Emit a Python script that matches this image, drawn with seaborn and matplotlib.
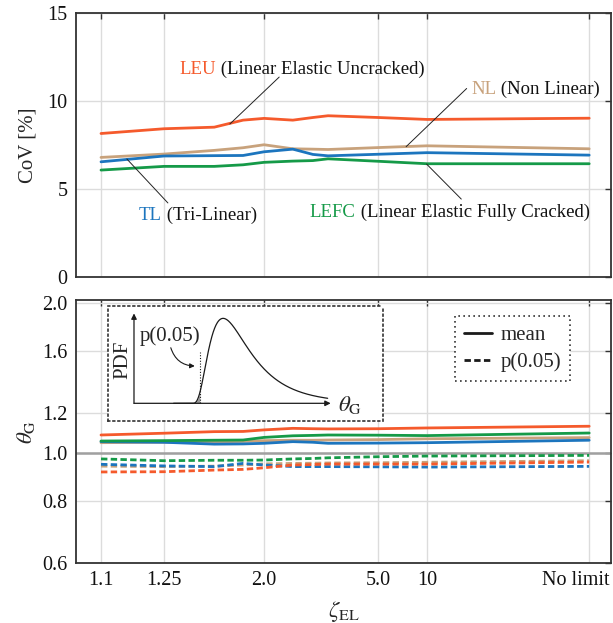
import numpy as np
import pandas as pd
import matplotlib
matplotlib.use("Agg")
import matplotlib.pyplot as plt
import seaborn as sns
from matplotlib.transforms import ScaledTranslation
from matplotlib.lines import Line2D
from matplotlib.patches import FancyArrowPatch

# ---------------- data ----------------
positions = [0.0, 1.29, 2.32, 2.91, 3.34, 3.93, 4.34, 4.65, 5.68, 6.68, 10.0]
tick_pos = [0.0, 1.29, 3.34, 5.68, 6.68, 10.0]
tick_labels = ["1.1", "1.25", "2.0", "5.0", "10", "No limit"]

models = ["LEU", "NL", "TL", "LEFC"]
colors = {"LEU": "#F55A2C", "NL": "#C8A27C", "TL": "#1C75BE", "LEFC": "#159A48"}

cov = {
    "LEU":  [8.14, 8.41, 8.50, 8.90, 9.00, 8.90, 9.05, 9.15, 9.05, 8.94, 9.01],
    "NL":   [6.78, 6.97, 7.18, 7.33, 7.50, 7.27, 7.25, 7.23, 7.34, 7.44, 7.27],
    "TL":   [6.53, 6.86, 6.88, 6.89, 7.10, 7.25, 6.95, 6.87, 6.96, 7.05, 6.91],
    "LEFC": [6.06, 6.27, 6.27, 6.36, 6.50, 6.57, 6.60, 6.70, 6.56, 6.42, 6.42],
}
theta_mean = {
    "LEU":  [1.086, 1.095, 1.103, 1.104, 1.112, 1.120, 1.118, 1.117, 1.118, 1.122, 1.131],
    "NL":   [1.048, 1.050, 1.052, 1.054, 1.058, 1.060, 1.060, 1.061, 1.063, 1.067, 1.073],
    "TL":   [1.053, 1.050, 1.041, 1.042, 1.045, 1.053, 1.050, 1.045, 1.046, 1.048, 1.060],
    "LEFC": [1.056, 1.058, 1.060, 1.061, 1.074, 1.082, 1.084, 1.086, 1.085, 1.083, 1.096],
}
theta_p05 = {
    "LEU":  [0.915, 0.916, 0.923, 0.926, 0.933, 0.945, 0.947, 0.949, 0.949, 0.949, 0.958],
    "NL":   [0.940, 0.938, 0.940, 0.945, 0.950, 0.952, 0.953, 0.954, 0.955, 0.957, 0.964],
    "TL":   [0.948, 0.941, 0.938, 0.952, 0.945, 0.938, 0.938, 0.938, 0.937, 0.936, 0.939],
    "LEFC": [0.972, 0.964, 0.966, 0.966, 0.967, 0.972, 0.974, 0.977, 0.982, 0.985, 0.988],
}
full_names = {
    "LEU": " (Linear Elastic Uncracked)",
    "NL": " (Non Linear)",
    "TL": " (Tri-Linear)",
    "LEFC": " (Linear Elastic Fully Cracked)",
}

# ---------------- style ----------------
sns.set_theme(style="white")
plt.rcParams["font.family"] = ["Liberation Serif", "DejaVu Serif"]
plt.rcParams["mathtext.fontset"] = "stix"
FS = 13.5      # annotation labels
TFS = 14.5     # tick / axis labels
IFS = 15       # legend and inset text
SPC = "#333333"
GRID = "#dcdcdc"
LW = 2.0

fig = plt.figure(figsize=(6.13, 6.23), dpi=100)
ax1 = fig.add_axes([0.124, 0.556, 0.873, 0.4233])
ax2 = fig.add_axes([0.124, 0.0963, 0.873, 0.4221])

top_rows = []
for m in models:
    for p, v in zip(positions, cov[m]):
        top_rows.append({"pos": p, "val": v, "model": m})
df_top = pd.DataFrame(top_rows)

bot_rows = []
for m in models:
    for p, v in zip(positions, theta_mean[m]):
        bot_rows.append({"pos": p, "val": v, "model": m, "stat": "mean"})
    for p, v in zip(positions, theta_p05[m]):
        bot_rows.append({"pos": p, "val": v, "model": m, "stat": "p05"})
df_bot = pd.DataFrame(bot_rows)

sns.lineplot(data=df_top, x="pos", y="val", hue="model", palette=colors,
             hue_order=models, ax=ax1, legend=False, lw=LW, errorbar=None)
sns.lineplot(data=df_bot, x="pos", y="val", hue="model", style="stat",
             palette=colors, hue_order=["NL", "TL", "LEFC", "LEU"],
             dashes={"mean": "", "p05": (2.3, 1.2)}, ax=ax2, legend=False,
             lw=LW, errorbar=None)

xlim = (-0.512, 10.45)
for ax in (ax1, ax2):
    ax.set_xlim(*xlim)
    ax.set_xticks(tick_pos)
    ax.grid(True, color=GRID, lw=1.0)
    ax.set_axisbelow(True)
    for s in ax.spines.values():
        s.set_color(SPC)
        s.set_linewidth(1.3)
    ax.tick_params(direction="in", length=4, width=1.0, color=SPC,
                   top=True, right=True, labelsize=TFS, pad=6,
                   labelcolor="#111111")
    ax.minorticks_off()

# top panel
ax1.set_ylim(0, 15)
ax1.set_yticks([0, 5, 10, 15])
ax1.set_yticklabels(["0", "5", "10", "15"])
ax1.tick_params(labelbottom=False)
ax1.set_xlabel("")
ax1.set_ylabel("CoV [%]", fontsize=TFS + 0.5, labelpad=7)

label_spec = {
    "LEU": ((1.60, 11.52), (3.65, 11.35), (2.64, 8.68)),
    "NL": ((7.58, 10.36), (7.49, 10.70), (6.25, 7.39)),
    "TL": ((0.78, 3.22), (1.37, 4.19), (0.53, 6.69)),
    "LEFC": ((4.28, 3.375), (7.38, 4.41), (6.67, 6.40)),
}
for m in models:
    (tx, ty), (l0x, l0y), (l1x, l1y) = label_spec[m]
    t1 = ax1.text(tx, ty, m, color=colors[m], fontsize=FS, ha="left",
                  va="baseline")
    ax1.annotate(full_names[m], xy=(1, 0), xycoords=t1, ha="left",
                 va="bottom", fontsize=FS, color="#111111")
    ax1.plot([l0x, l1x], [l0y, l1y], color="#222222", lw=0.7)

# bottom panel
ax2.set_yscale("log")
ax2.set_ylim(0.6, 2.03)
yt = [0.6, 0.8, 1.0, 1.2, 1.6, 2.0]
ax2.set_yticks(yt)
ax2.set_yticklabels(["0.6", "0.8", "1.0", "1.2", "1.6", "2.0"])
ax2.minorticks_off()
ax2.axhline(1.0, color="#a0a0a0", lw=1.8, zorder=1)
ax2.set_xticklabels(tick_labels)
ax2.set_ylabel(r"$\theta_{\mathrm{G}}$", fontsize=TFS + 2, labelpad=4)
ax2.set_xlabel(r"$\zeta_{\mathrm{EL}}$", fontsize=TFS + 2, labelpad=6)
lbl = ax2.get_xticklabels()[-1]
lbl.set_transform(lbl.get_transform() + ScaledTranslation(-0.13, 0, fig.dpi_scale_trans))

handles = [Line2D([], [], color="k", lw=LW),
           Line2D([], [], color="k", lw=LW, dashes=(2.3, 1.2))]
leg = ax2.legend(handles, ["mean", "p(0.05)"], loc="upper right",
                 bbox_to_anchor=(0.924, 0.939), frameon=True, fancybox=False,
                 fontsize=IFS, handlelength=1.35, borderpad=0.45,
                 labelspacing=0.35, handletextpad=0.4, borderaxespad=0)
fr = leg.get_frame()
fr.set_edgecolor(SPC)
fr.set_linestyle((0, (1, 2)))
fr.set_linewidth(1.2)
fr.set_facecolor("white")
fr.set_alpha(1)

# inset schematic PDF
ins = ax2.inset_axes([0.059, 0.541, 0.514, 0.436])
ins.set_xlim(0, 1)
ins.set_ylim(0, 1)
ins.set_xticks([])
ins.set_yticks([])
ins.set_facecolor("white")
for s in ins.spines.values():
    s.set_linestyle((0, (1, 2)))
    s.set_linewidth(1.2)
    s.set_color(SPC)

base = 0.152
x0_ax, top_ax, right_ax = 0.096, 0.936, 0.811
pdf_shift, pdf_mode, pdf_sigma, pdf_peak = 0.30, 0.12, 0.6, 0.741
q05 = 0.336
xs = np.linspace(pdf_shift + 1e-4, 0.80, 400)
t = xs - pdf_shift
mu = np.log(pdf_mode) + pdf_sigma ** 2
f = np.exp(-(np.log(t) - mu) ** 2 / (2 * pdf_sigma ** 2)) / t
f = f / f.max() * pdf_peak
xs = np.concatenate([[0.24], xs])
f = np.concatenate([[0.0], f])
ins.plot(xs, base + f, color="k", lw=0.9)
mask = xs <= q05
ins.fill_between(xs[mask], base, base + f[mask], color="#9a9a9a", lw=0)
ins.plot([q05, q05], [base, 0.60], color="k", lw=0.8, ls=(0, (1, 1.5)))
ins.annotate("", xy=(x0_ax, top_ax), xytext=(x0_ax, base),
             arrowprops=dict(arrowstyle="-|>", lw=0.9, color="k",
                             mutation_scale=8, shrinkA=0, shrinkB=0))
ins.annotate("", xy=(right_ax, base), xytext=(x0_ax, base),
             arrowprops=dict(arrowstyle="-|>", lw=0.9, color="k",
                             mutation_scale=8, shrinkA=0, shrinkB=0))
ins.text(0.228, 0.74, "p(0.05)", fontsize=IFS, ha="center", va="center")
ins.text(0.054, 0.53, "PDF", fontsize=IFS, ha="center", va="center",
         rotation=90)
ins.text(0.838, 0.14, r"$\theta_{\mathrm{G}}$", fontsize=IFS + 1.5, ha="left",
         va="center")
arr = FancyArrowPatch((0.227, 0.66), (0.327, 0.477),
                      connectionstyle="arc3,rad=0.4", arrowstyle="-|>",
                      mutation_scale=7, lw=0.8, color="k",
                      transform=ins.transAxes)
ins.add_patch(arr)

fig.savefig("out.png", dpi=100)
